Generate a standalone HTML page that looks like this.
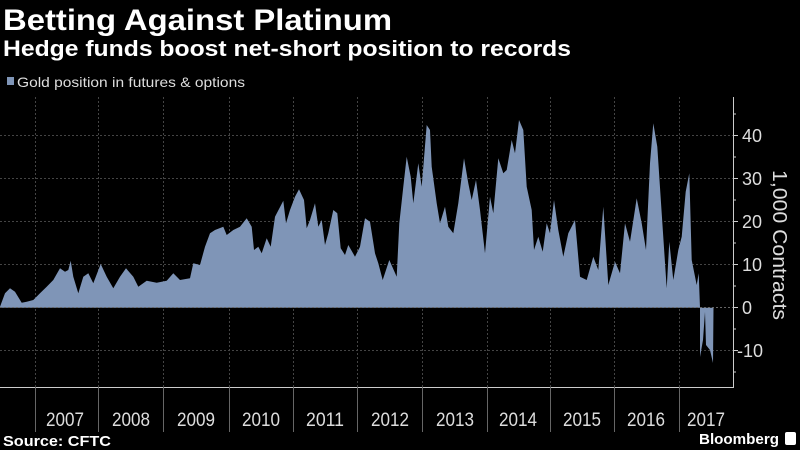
<!DOCTYPE html>
<html><head><meta charset="utf-8"><style>
html,body{margin:0;padding:0;background:#000;}
body{width:800px;height:450px;overflow:hidden;position:relative;font-family:"Liberation Sans",sans-serif;color:#fff;}
</style></head><body>
<svg width="800" height="450" viewBox="0 0 800 450" xmlns="http://www.w3.org/2000/svg" style="position:absolute;left:0;top:0">
<rect width="800" height="450" fill="#000"/>
<text x="3" y="30" font-size="30" font-weight="bold" fill="#fff" font-family="Liberation Sans, sans-serif" textLength="389" lengthAdjust="spacingAndGlyphs">Betting Against Platinum</text>
<text x="3" y="56" font-size="22" font-weight="bold" fill="#fff" font-family="Liberation Sans, sans-serif" textLength="568" lengthAdjust="spacingAndGlyphs">Hedge funds boost net-short position to records</text>
<rect x="7" y="77" width="7" height="8" fill="#7f95b7"/>
<text x="17" y="87" font-size="14" fill="#ddd" font-family="Liberation Sans, sans-serif" textLength="228" lengthAdjust="spacingAndGlyphs">Gold position in futures &amp; options</text>
<g stroke="#444" stroke-width="1" stroke-dasharray="2,2">
<line x1="0" x2="733" y1="135.5" y2="135.5"/><line x1="0" x2="733" y1="178.5" y2="178.5"/>
<line x1="0" x2="733" y1="221.5" y2="221.5"/><line x1="0" x2="733" y1="264.5" y2="264.5"/>
<line x1="0" x2="733" y1="350.5" y2="350.5"/>
<line x1="35.5" x2="35.5" y1="97" y2="387"/><line x1="98.5" x2="98.5" y1="97" y2="387"/>
<line x1="163.5" x2="163.5" y1="97" y2="387"/><line x1="229.5" x2="229.5" y1="97" y2="387"/>
<line x1="293.5" x2="293.5" y1="97" y2="387"/><line x1="357.5" x2="357.5" y1="97" y2="387"/>
<line x1="422.5" x2="422.5" y1="97" y2="387"/><line x1="487.5" x2="487.5" y1="97" y2="387"/>
<line x1="550.5" x2="550.5" y1="97" y2="387"/><line x1="614.5" x2="614.5" y1="97" y2="387"/>
<line x1="679.5" x2="679.5" y1="97" y2="387"/>
</g>
<polygon fill="#7f95b7" points="0,307.7 0,306.7 5,293.3 10,288.3 15,291.7 21.7,302.7 26.7,301.7 33.3,300 40,293.3 46.7,286.7 53.3,280 60,268.3 65,271.7 68.3,270 70.7,260.7 73.3,276.7 78.3,293.3 83.3,276.7 88.3,273.3 93.3,283.3 100.7,264 106.7,276.7 113.3,288.3 120,276.7 126,268.3 133.3,276.7 138.3,286.7 146.7,280.7 156.7,282.7 166.7,280.7 173.3,273.3 180,280 190,278.3 193.3,263.3 200,265 205,246.7 210,233.3 215,230 223.3,226.7 226.7,235 233.3,230 240,226.7 246.7,218.3 251.7,226.7 254,250 258.3,246.7 261.7,253.3 266.7,238.3 270.7,246.7 275,216.7 283.3,200.7 286,223.3 290,210 295,196.7 299,189.3 304,200 306.7,228.3 310,220 315,203.3 318.3,226.7 321.7,220 325,245 328.3,233.3 333.3,210 337.3,213.3 340.7,248.3 345,255 348.3,245 355,256.7 360,246.7 365,218.3 370,221.7 375,253.3 378.3,263.3 382.7,280 389.3,260 396.7,276.7 399.3,223.3 403.3,186.7 406.7,156.7 410.7,176.7 413.3,203.3 418.3,163.3 421.7,186.7 426.7,125 430,130 431.7,166.7 436.7,203.3 440,223.3 445,206.7 448.3,226.7 453.3,233.3 458.3,203.3 464,158.3 468.3,183.3 471.7,200 476,180 480,210 485,253.3 490,196.7 493.3,213.3 498.3,158.3 503.3,173.3 506.7,170 511.7,140 515,153.3 519,120 523.3,130 526.7,186.7 531.7,210 534,250 538.3,236.7 542.7,251.7 546.7,223.3 550,233.3 554,200 558.3,230 563.3,256.7 568.3,233.3 575,220 580,276.7 586.7,280 593.3,256.7 598.3,270 603.3,206.7 608.3,285 615,261.7 620,273.3 625,223.3 630,241.7 636.7,198.3 641.7,223.3 646,250 650,163.3 653.3,123.3 657.3,146.7 661.7,213.3 666.7,288.3 669.3,241.7 673.3,280 678.3,250 681.7,236.7 685.7,191.7 689.3,173.3 691.7,260 696.7,285 698.7,273.3 700,307.7 700,357 703,340 705,312 706,345 710,350 713,363 713.5,307.7"/>
<line x1="0" x2="733" y1="307.5" y2="307.5" stroke="#666" stroke-dasharray="2,2"/>
<g stroke="#ccc" stroke-width="1">
<line x1="733.5" x2="733.5" y1="97" y2="388"/>
<line x1="0" x2="734" y1="387.5" y2="387.5"/>
<line x1="733" x2="738" y1="135.5" y2="135.5"/><line x1="733" x2="738" y1="178.5" y2="178.5"/>
<line x1="733" x2="738" y1="221.5" y2="221.5"/><line x1="733" x2="738" y1="264.5" y2="264.5"/>
<line x1="733" x2="738" y1="307.5" y2="307.5"/><line x1="733" x2="738" y1="350.5" y2="350.5"/>
<line x1="733" x2="736" y1="114" y2="114"/><line x1="733" x2="736" y1="157" y2="157"/>
<line x1="733" x2="736" y1="200" y2="200"/><line x1="733" x2="736" y1="243" y2="243"/>
<line x1="733" x2="736" y1="286" y2="286"/><line x1="733" x2="736" y1="329" y2="329"/>
<line x1="733" x2="736" y1="372" y2="372"/>
</g>
<g stroke="#666" stroke-width="1">
<line x1="35.5" x2="35.5" y1="387" y2="432"/><line x1="98.5" x2="98.5" y1="387" y2="432"/>
<line x1="163.5" x2="163.5" y1="387" y2="432"/><line x1="229.5" x2="229.5" y1="387" y2="432"/>
<line x1="293.5" x2="293.5" y1="387" y2="432"/><line x1="357.5" x2="357.5" y1="387" y2="432"/>
<line x1="422.5" x2="422.5" y1="387" y2="432"/><line x1="487.5" x2="487.5" y1="387" y2="432"/>
<line x1="550.5" x2="550.5" y1="387" y2="432"/><line x1="614.5" x2="614.5" y1="387" y2="432"/>
<line x1="679.5" x2="679.5" y1="387" y2="432"/>
</g>
<g font-size="18" fill="#ddd" font-family="Liberation Sans, sans-serif">
<text x="742" y="142">40</text><text x="742" y="185">30</text><text x="742" y="228">20</text>
<text x="742" y="271">10</text><text x="742" y="314">0</text><text x="737" y="357">-10</text>
</g>
<text transform="translate(773,245) rotate(90)" text-anchor="middle" font-size="20" fill="#ddd" font-family="Liberation Sans, sans-serif" textLength="150" lengthAdjust="spacingAndGlyphs">1,000 Contracts</text>
<g font-size="19" fill="#ddd" text-anchor="middle" font-family="Liberation Sans, sans-serif">
<text x="65" y="426" textLength="38" lengthAdjust="spacingAndGlyphs">2007</text><text x="131" y="426" textLength="38" lengthAdjust="spacingAndGlyphs">2008</text><text x="196" y="426" textLength="38" lengthAdjust="spacingAndGlyphs">2009</text>
<text x="261" y="426" textLength="38" lengthAdjust="spacingAndGlyphs">2010</text><text x="325" y="426" textLength="38" lengthAdjust="spacingAndGlyphs">2011</text><text x="390" y="426" textLength="38" lengthAdjust="spacingAndGlyphs">2012</text>
<text x="455" y="426" textLength="38" lengthAdjust="spacingAndGlyphs">2013</text><text x="518" y="426" textLength="38" lengthAdjust="spacingAndGlyphs">2014</text><text x="582" y="426" textLength="38" lengthAdjust="spacingAndGlyphs">2015</text>
<text x="646" y="426" textLength="38" lengthAdjust="spacingAndGlyphs">2016</text><text x="706" y="426" textLength="38" lengthAdjust="spacingAndGlyphs">2017</text>
</g>
<text x="3" y="446" font-size="15" font-weight="bold" fill="#fff" font-family="Liberation Sans, sans-serif" textLength="108" lengthAdjust="spacingAndGlyphs">Source: CFTC</text>
<text x="699" y="444" font-size="15" font-weight="bold" fill="#fff" font-family="Liberation Sans, sans-serif" textLength="80" lengthAdjust="spacingAndGlyphs">Bloomberg</text>
<rect x="785" y="432" width="11" height="13" fill="#fff" rx="2"/>
</svg>
</body></html>
